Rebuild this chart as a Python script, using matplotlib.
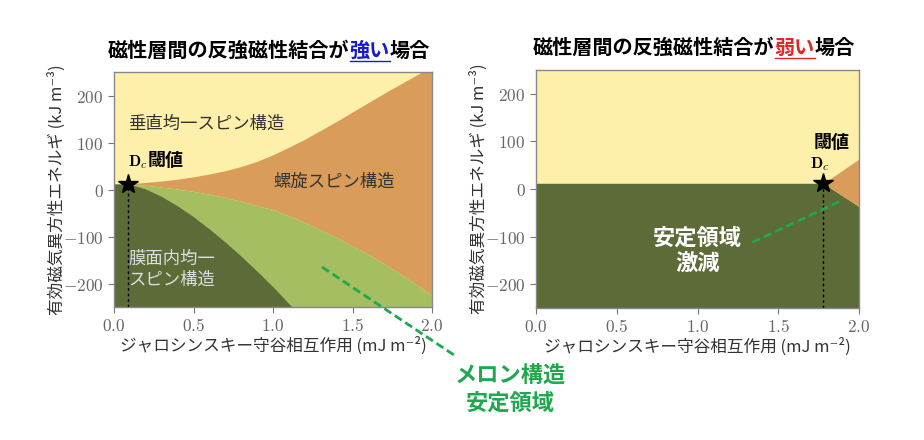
import matplotlib
matplotlib.use("Agg")
import matplotlib.pyplot as plt
from matplotlib.lines import Line2D
from matplotlib.ticker import FuncFormatter

plt.rcParams["font.family"] = ["Noto Sans CJK JP", "DejaVu Sans"]
plt.rcParams["mathtext.fontset"] = "cm"

# colours of the phases
C_PERP = "#FEF0AA"   # perpendicular uniform
C_HELIX = "#DA9C5A"  # helical
C_MERON = "#A5BE62"  # meron
C_INPL = "#5C6B38"   # in-plane uniform

# strong AFM coupling: phase boundaries (D in mJ m^-2, E in kJ m^-3)
dc_strong = 0.09
e_dc = 12
d_helix = [0.09, 0.2, 0.3, 0.4, 0.5, 0.6, 0.7, 0.8, 0.9, 1.0,
           1.1, 1.2, 1.3, 1.4, 1.5, 1.6, 1.7, 1.8, 1.9, 2.0]
e_helix_top = [12, 15, 18, 22, 27, 33, 40, 49, 60, 74,
               90, 107, 126, 145, 165, 185, 205, 224, 243, 262]
e_helix_bot = [12, 9, 5, 1, -4, -10, -17, -25, -34, -43,
               -56, -70, -86, -102, -120, -138, -158, -180, -202, -226]
d_inpl = [0.0, 0.09, 0.2, 0.3, 0.4, 0.5, 0.6, 0.7, 0.8, 0.9, 1.0, 1.1, 1.12]
e_inpl = [12, 12, 1, -15, -35, -58, -84, -112, -142, -174, -207, -243, -250]

# weak AFM coupling
dc_weak = 1.78
d_weak = [0.0, 1.78, 2.0]
e_weak_inpl = [12, 12, -37]
d_tri = [1.78, 2.0]
e_tri_top = [12, 63]
e_tri_bot = [12, -37]

xlim = (0.0, 2.0)
ylim = (-250, 250)
xticks = [0.0, 0.5, 1.0, 1.5, 2.0]
yticks = [-200, -100, 0, 100, 200]

xlabel = "ジャロシンスキー守谷相互作用 (mJ m⁻²)"
ylabel = "有効磁気異方性エネルギ (kJ m⁻³)"

W, H = 924, 440
fig = plt.figure(figsize=(W / 100, H / 100), dpi=100)
ax1 = fig.add_axes([114 / W, 1 - 307 / H, 318 / W, 235 / H])
ax2 = fig.add_axes([536 / W, 1 - 308 / H, 323 / W, 238 / H])

for ax in (ax1, ax2):
    ax.set_facecolor(C_PERP)
    ax.set_xlim(*xlim)
    ax.set_ylim(*ylim)
    ax.set_xticks(xticks)
    ax.set_yticks(yticks)
    ax.xaxis.set_major_formatter(FuncFormatter(lambda v, p: f"${v:.1f}$"))
    ax.yaxis.set_major_formatter(FuncFormatter(lambda v, p: f"${int(v)}$"))
    ax.tick_params(colors="#777777", labelcolor="#666666", labelsize=12.5,
                   length=4, width=0.8)
    for s in ax.spines.values():
        s.set_color("#888888")
        s.set_linewidth(1.0)
    ax.set_xlabel(xlabel, fontsize=12, color="#333333", labelpad=1)
    ax.set_ylabel(ylabel, fontsize=12, color="#333333", labelpad=-2)

# left panel
ax1.fill_between(d_helix, e_helix_bot, e_helix_top, color=C_HELIX, lw=0)
ax1.fill_between(d_helix, ylim[0], e_helix_bot, color=C_MERON, lw=0)
ax1.fill_between(d_inpl, ylim[0], e_inpl, color=C_INPL, lw=0)
ax1.plot([dc_strong, dc_strong], [ylim[0], e_dc], color="black", ls=(0, (2, 2)), lw=1)
ax1.plot(dc_strong, e_dc, marker="*", color="black", ms=15, zorder=5)
ax1.text(0.09, 140, "垂直均一スピン構造", fontsize=12.5, color="#333333", va="center")
ax1.text(1.0, 17, "螺旋スピン構造", fontsize=12.5, color="#333333", va="center")
ax1.text(0.09, -170, "膜面内均一\nスピン構造", fontsize=12.5, color="#DDDDDD",
         va="center", linespacing=1.2)
ax1.text(0.085, 58, r"$\mathbf{D}_c$", fontsize=11.5, va="center")
ax1.text(0.21, 62, "閾値", fontsize=13, fontweight="bold", va="center")

# right panel
ax2.fill_between(d_weak, ylim[0], e_weak_inpl, color=C_INPL, lw=0)
ax2.fill_between(d_tri, e_tri_bot, e_tri_top, color=C_HELIX, lw=0)
ax2.plot([dc_weak, dc_weak], [ylim[0], e_dc], color="black", ls=(0, (2, 2)), lw=1)
ax2.plot(dc_weak, e_dc, marker="*", color="black", ms=15, zorder=5)
ax2.text(1.83, 97, "閾値", fontsize=13, fontweight="bold", ha="center", va="center")
ax2.text(1.76, 53, r"$\mathbf{D}_c$", fontsize=11.5, ha="center", va="center")
ax2.plot([1.34, 1.90], [-112, -23], color="#1FA84F", ls=(0, (3, 1.5)), lw=2)
ax2.text(1.0, -130, "安定領域\n激減", fontsize=16, fontweight="bold", color="white",
         ha="center", va="center", linespacing=1.15)

# meron annotation on the left panel
fig.add_artist(Line2D([322 / W, 457 / W], [1 - 267 / H, 1 - 357 / H],
                      transform=fig.transFigure, color="#1FA84F",
                      ls=(0, (3, 1.5)), lw=2))
fig.text(510 / W, 1 - 390 / H, "メロン構造\n安定領域", fontsize=16, fontweight="bold",
         color="#1FA84F", ha="center", va="center", linespacing=1.2)


def colored_title(xc, y, parts):
    r = fig.canvas.get_renderer()
    texts = []
    widths = []
    for s, c in parts:
        t = fig.text(0, y / H, s, color=c, fontsize=14.5, fontweight="bold",
                     va="baseline", ha="left")
        widths.append(t.get_window_extent(r).width)
        texts.append((t, c))
    x = xc - sum(widths) / 2
    for (t, c), w in zip(texts, widths):
        t.set_x(x / W)
        if c != "black":
            fig.add_artist(Line2D([x / W, (x + w) / W], [(y - 4) / H, (y - 4) / H],
                                  transform=fig.transFigure, color=c, lw=1))
        x += w


fig.canvas.draw()
colored_title(269, H - 57, [("磁性層間の反強磁性結合が", "black"), ("強い", "#1A1ACC"),
                            ("場合", "black")])
colored_title(694, H - 54, [("磁性層間の反強磁性結合が", "black"), ("弱い", "#E02828"),
                            ("場合", "black")])

fig.savefig("out.png", dpi=100)
